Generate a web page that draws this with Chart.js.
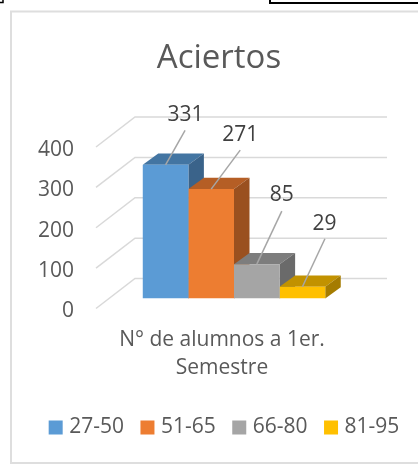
<!DOCTYPE html>
<html>
<head>
<meta charset="utf-8">
<script src="https://cdn.jsdelivr.net/npm/chart.js@4/dist/chart.umd.js"></script>
<style>
html,body{margin:0;padding:0;background:#fff;width:418px;height:464px;overflow:hidden}
canvas{display:block}
</style>
</head>
<body>
<canvas id="c" width="418" height="464"></canvas>
<script>
const categories = [["N° de alumnos a 1er.", "Semestre"]];
const seriesNames = ["27-50", "51-65", "66-80", "81-95"];
const seriesValues = [331, 271, 85, 29];
const yTicks = [0, 100, 200, 300, 400];

const frontColors = ["#5B9BD5", "#ED7D31", "#A5A5A5", "#FFC000"];
const topColors = ["#4375A2", "#B55E25", "#7D7D7D", "#C29200"];
const sideColors = ["#3A638A", "#9A501F", "#6A6A6A", "#A57C00"];
const labelShift = [[20, -50], [29, -54], [25, -69], [22, -63]];
const leaderEnd = [[19.5, -34.5], [29, -39], [25, -53], [22.5, -48]];
const FONT = "'Open Sans', sans-serif";

const depth3d = {
  id: "depth3d",
  beforeDraw(chart) {
    const c = chart.ctx;
    c.save();
    c.fillStyle = "#fff";
    c.fillRect(0, 0, 418, 464);
    c.strokeStyle = "#000";
    c.lineWidth = 1.5;
    c.beginPath();
    c.moveTo(0, 2.5); c.lineTo(3, 2.5); c.lineTo(3, 0);
    c.stroke();
    c.lineWidth = 2;
    c.beginPath();
    c.moveTo(270, 0); c.lineTo(270, 3); c.lineTo(418, 3);
    c.stroke();
    c.strokeStyle = "#DEDEDE";
    c.lineWidth = 2;
    c.strokeRect(11, 11.5, 420, 451.5);
    c.restore();
  },
  beforeDatasetsDraw(chart) {
    const c = chart.ctx, y = chart.scales.y, a = chart.chartArea;
    c.save();
    c.strokeStyle = "#D9D9D9";
    c.lineWidth = 1.5;
    yTicks.forEach(v => {
      const p = y.getPixelForValue(v);
      c.beginPath();
      c.moveTo(a.left - 12, p + 10);
      c.lineTo(a.left + 27, p - 20);
      c.lineTo(a.right + 27, p - 20);
      c.stroke();
    });
    const dx = 15.5, dy = 11.3;
    chart.data.datasets.forEach((d, i) => {
      const b = chart.getDatasetMeta(i).data[0];
      const l = b.x - b.width / 2, r = b.x + b.width / 2, t = b.y, base = b.base;
      c.fillStyle = topColors[i];
      c.beginPath();
      c.moveTo(l, t); c.lineTo(l + dx, t - dy); c.lineTo(r + dx, t - dy); c.lineTo(r, t);
      c.closePath(); c.fill();
      c.fillStyle = sideColors[i];
      c.beginPath();
      c.moveTo(r, t); c.lineTo(r + dx, t - dy); c.lineTo(r + dx, base - dy); c.lineTo(r, base);
      c.closePath(); c.fill();
    });
    c.restore();
  },
  afterDatasetsDraw(chart) {
    const c = chart.ctx;
    c.save();
    chart.data.datasets.forEach((d, i) => {
      const b = chart.getDatasetMeta(i).data[0];
      c.strokeStyle = "#A6A6A6";
      c.lineWidth = 1.5;
      c.beginPath();
      c.moveTo(b.x, b.y);
      c.lineTo(b.x + leaderEnd[i][0], b.y + leaderEnd[i][1]);
      c.stroke();
      c.fillStyle = "#404040";
      c.font = "21px " + FONT;
      c.textAlign = "center";
      c.textBaseline = "middle";
      c.fillText(String(d.data[0]), b.x + labelShift[i][0], b.y + labelShift[i][1]);
    });
    c.restore();
  },
  afterLayout(chart) {
    chart.titleBlock.right -= 14;
  }
};

new Chart(document.getElementById("c"), {
  type: "bar",
  data: {
    labels: categories,
    datasets: seriesNames.map((n, i) => ({
      label: n,
      data: [seriesValues[i]],
      backgroundColor: frontColors[i]
    }))
  },
  options: {
    responsive: false,
    animation: false,
    events: [],
    layout: { padding: { left: 32, right: -2, top: 0, bottom: 16 } },
    datasets: { bar: { barPercentage: 1, categoryPercentage: 0.724 } },
    plugins: {
      tooltip: { enabled: false },
      title: {
        display: true,
        text: "Aciertos",
        color: "#595959",
        font: { family: FONT, size: 33, weight: "normal", lineHeight: 1.2 },
        padding: { top: 39, bottom: 58.4 }
      },
      legend: {
        position: "bottom",
        labels: {
          boxWidth: 6, boxHeight: 6, padding: 20.5,
          color: "#595959",
          font: { family: FONT, size: 21 },
          generateLabels(chart) {
            return Chart.defaults.plugins.legend.labels.generateLabels(chart).map(l => ({
              ...l, lineWidth: 8, strokeStyle: l.fillStyle
            }));
          }
        }
      }
    },
    scales: {
      x: {
        grid: { display: false },
        border: { display: false },
        afterFit(s) { s.height = 98; },
        ticks: {
          color: "#595959",
          padding: 20,
          labelOffset: -12,
          maxRotation: 0,
          font: { family: FONT, size: 21, lineHeight: 1.33 }
        }
      },
      y: {
        min: 0, max: 400,
        grid: { display: false },
        border: { display: false },
        afterFit(s) { s.width = 76; },
        ticks: {
          stepSize: 100,
          color: "#595959",
          padding: 26,
          labelOffset: 13,
          font: { family: FONT, size: 21 }
        }
      },
      pad: {
        position: "right",
        grid: { display: false },
        border: { display: false },
        ticks: { display: false },
        afterFit(s) { s.width = 60; }
      }
    }
  },
  plugins: [depth3d]
});
</script>
</body>
</html>
